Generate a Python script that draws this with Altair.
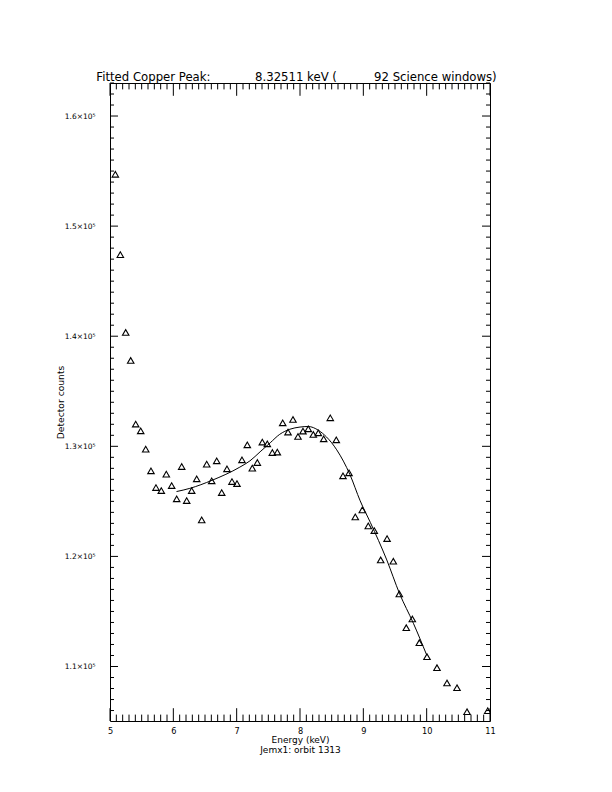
import altair as alt
import pandas as pd

# ---- data ----
energy = [5.084, 5.163, 5.248, 5.327, 5.406, 5.485, 5.564, 5.647, 5.726, 5.810,
          5.889, 5.974, 6.053, 6.132, 6.211, 6.290, 6.369, 6.448, 6.527, 6.606,
          6.685, 6.764, 6.847, 6.926, 7.005, 7.084, 7.168, 7.247, 7.326, 7.405,
          7.484, 7.563, 7.642, 7.727, 7.811, 7.889, 7.968, 8.047, 8.131, 8.210,
          8.289, 8.374, 8.478, 8.573, 8.679, 8.774, 8.873, 8.984, 9.078, 9.173,
          9.274, 9.375, 9.473, 9.568, 9.678, 9.773, 9.884, 10.005, 10.163, 10.321,
          10.479, 10.637, 10.964]
counts = [154709, 147409, 140345, 137800, 132018, 131409, 129745, 127773, 126255, 125982,
          127473, 126436, 125227, 128164, 125073, 125982, 127045, 123318, 128382, 126864,
          128682, 125800, 127955, 126800, 126618, 128773, 130136, 128018, 128527, 130382,
          130227, 129436, 129473, 132136, 131291, 132436, 130891, 131382, 131591, 131073,
          131227, 130682, 132591, 130591, 127318, 127591, 123591, 124227, 122773, 122345,
          119682, 121618, 119564, 116591, 113527, 114318, 112164, 110891, 109891, 108500,
          108073, 105891, 105982]

fit_energy = [6.05, 6.26, 6.61, 7.05, 7.21, 7.37, 7.53, 7.68, 7.84, 8.00, 8.13,
              8.29, 8.42, 8.58, 8.79, 8.95, 9.11, 9.37, 9.57, 9.79, 10.00]
fit_counts = [125890, 126180, 126910, 128110, 128680, 129500, 130320, 131090, 131550,
              131750, 131800, 131460, 130840, 129680, 127410, 125050, 123090, 119680,
              116650, 113930, 111050]

x_major = [5, 6, 7, 8, 9, 10, 11]
x_minor = [round(5 + 0.1 * i, 1) for i in range(1, 60) if i % 10]
y_major = [110000, 120000, 130000, 140000, 150000, 160000]
y_minor = [v for v in range(106000, 163001, 1000) if v % 10000]

X_DOMAIN = [5, 11]
Y_DOMAIN = [105050, 163000]

W, H = 380, 638
FONT = "DejaVu Sans"

title_text = ("Fitted Copper Peak:" + "\u00a0" * 12 + "8.32511 keV (" + "\u00a0" * 10
              + "92 Science windows)")

xs = alt.Scale(domain=X_DOMAIN, nice=False, zero=False)
ys = alt.Scale(domain=Y_DOMAIN, nice=False, zero=False)

xaxis = alt.Axis(values=x_major, format="d", domain=False, ticks=False, tickSize=0,
                 grid=False, labelFont=FONT, labelFontSize=8.2, labelColor="black",
                 labelPadding=6, labelFlush=False, labelOverlap=False, labelBound=False,
                 title=["Energy (keV)", "Jemx1: orbit 1313"], titleFont=FONT,
                 titleFontSize=9, titleFontWeight="normal", titleColor="black",
                 titleY=21, titleBaseline="alphabetic", titleLineHeight=10.5)
yaxis = alt.Axis(values=y_major,
                 labelExpr="format(datum.value/100000,'.1f') + '×10⁵'",
                 domain=False, ticks=False, tickSize=0, grid=False, labelFont=FONT,
                 labelFontSize=7.5, labelColor="black", labelPadding=15,
                 labelOverlap=False, labelBound=False,
                 title="Detector counts", titleFont=FONT, titleFontSize=9.2,
                 titleFontWeight="normal", titleColor="black", titleX=-47, titleY=H / 2,
                 titleAngle=270, titleAlign="center", titleBaseline="alphabetic")

pts = pd.DataFrame({"energy": energy, "counts": counts})
fit = pd.DataFrame({"energy": fit_energy, "counts": fit_counts})

points = alt.Chart(pts).mark_point(shape="triangle-up", size=42, filled=False,
                                   color="black", strokeWidth=1.1, opacity=1, clip=True).encode(
    x=alt.X("energy:Q", scale=xs, axis=xaxis),
    y=alt.Y("counts:Q", scale=ys, axis=yaxis),
)

line = alt.Chart(fit).mark_line(color="black", strokeWidth=1, interpolate="monotone").encode(
    x=alt.X("energy:Q", scale=xs, axis=xaxis),
    y=alt.Y("counts:Q", scale=ys, axis=yaxis),
)


def xticks(vals, length, top):
    y0, y1 = (0, length) if top else (H, H - length)
    return alt.Chart(pd.DataFrame({"energy": vals})).mark_rule(color="black", strokeWidth=1).encode(
        x=alt.X("energy:Q", scale=xs, axis=xaxis), y=alt.value(y0), y2=alt.value(y1))


def yticks(vals, length, right):
    x0, x1 = (W, W - length) if right else (0, length)
    return alt.Chart(pd.DataFrame({"counts": vals})).mark_rule(color="black", strokeWidth=1).encode(
        y=alt.Y("counts:Q", scale=ys, axis=yaxis), x=alt.value(x0), x2=alt.value(x1))


ticks = [
    xticks(x_major, 12.8, False), xticks(x_minor, 6.4, False),
    xticks(x_major, 12.8, True), xticks(x_minor, 6.4, True),
    yticks(y_major, 8, False), yticks(y_minor, 4, False),
    yticks(y_major, 8, True), yticks(y_minor, 4, True),
]

chart = alt.layer(points, line, *ticks).properties(
    width=W, height=H,
    autosize=alt.AutoSizeParams(type="none"),
    padding={"left": 102, "top": 75, "right": 20, "bottom": 50},
    background="white",
    title=alt.TitleParams(title_text, font=FONT, fontSize=11.7, fontWeight="normal",
                          color="black", anchor="middle", dx=-3.5, dy=13, offset=2.6,
                          baseline="alphabetic"),
).configure_view(stroke="black", strokeWidth=1)

chart.save("out.html", embed_options={"renderer": "svg", "actions": False})
